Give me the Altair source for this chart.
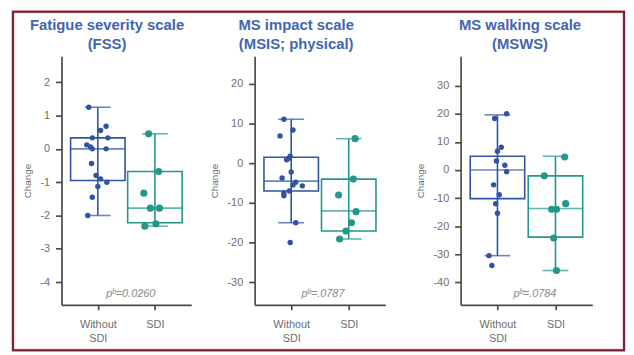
import altair as alt
import pandas as pd

groups = ["Without SDI", "SDI"]
colors = ["#2f54a3", "#25968b"]

titles = [["Fatigue severity scale", "(FSS)"],
          ["MS impact scale", "(MSIS; physical)"],
          ["MS walking scale", "(MSWS)"]]
p_labels = ["pᵇ=0.0260", "pᵇ=.0787", "pᵇ=.0784"]

# ---- Fatigue severity scale (FSS) ----
fss_without = [1.25, 0.68, 0.55, 0.33, 0.33, 0.12, 0.06, 0.0, 0.0, -0.44, -0.8, -0.9, -1.0, -1.13, -1.45, -2.0]
fss_without_jit = [-0.36, 0.33, 0.11, -0.22, 0.4, -0.44, -0.29, -0.22, 0.33, -0.25, -0.07, 0.11, 0.36, 0.0, -0.22, -0.4]
fss_sdi = [0.45, -0.68, -1.33, -1.78, -1.78, -2.32, -2.25]
fss_sdi_jit = [-0.25, 0.15, -0.44, -0.18, 0.18, -0.4, 0.04]
# box stats: low, q1, median, q3, high
fss_box_without = [-2.0, -0.95, 0.0, 0.33, 1.25]
fss_box_sdi = [-2.32, -2.22, -1.78, -0.68, 0.45]

# ---- MS impact scale (MSIS; physical) ----
msis_without = [11.1, 8.4, 6.9, 1.8, 1.2, 0.9, -2.2, -3.7, -4.8, -5.5, -5.7, -7.0, -7.5, -8.2, -15.0, -20.0]
msis_without_jit = [-0.29, 0.07, -0.44, -0.04, -0.11, -0.18, 0.0, -0.36, 0.18, 0.07, 0.44, -0.07, -0.29, -0.29, 0.18, -0.04]
msis_sdi = [6.2, -4.0, -8.0, -12.2, -15.0, -17.1, -19.1]
msis_sdi_jit = [0.25, 0.18, -0.4, 0.29, 0.11, -0.11, -0.36]
msis_box_without = [-15.0, -7.0, -4.5, 1.5, 11.1]
msis_box_sdi = [-19.1, -17.1, -12.0, -4.0, 6.2]

# ---- MS walking scale (MSWS) ----
msws_without = [20.0, 18.3, 8.1, 6.7, 3.2, 1.7, -0.6, -5.3, -8.8, -12.0, -15.4, -30.5, -34.0]
msws_without_jit = [0.36, -0.11, 0.15, 0.0, -0.04, 0.29, 0.36, -0.15, 0.07, -0.07, 0.0, -0.33, -0.22]
msws_sdi = [4.6, -2.1, -12.0, -14.0, -14.0, -24.2, -35.8]
msws_sdi_jit = [0.36, -0.44, 0.4, -0.15, 0.04, -0.07, 0.04]
msws_box_without = [-30.5, -10.2, 0.0, 4.9, 19.6]
msws_box_sdi = [-35.8, -23.9, -13.7, -2.1, 4.9]

y_domains = [[-4.68, 2.78], [-35.7, 27.0], [-48.0, 40.5]]
y_ticks = [[-4, -3, -2, -1, 0, 1, 2],
           [-30, -20, -10, 0, 10, 20],
           [-40, -30, -20, -10, 0, 10, 20, 30]]

# layout (pixels)
view_widths = [132, 145, 133]
range_widths = [131, 132, 133]
plot_h = 251
title_x = [46, 42, 60]
p_x = [70, 69, 75]

font = "Liberation Sans"
x_label_expr = (f"datum.value == 0 ? ['{groups[0].split(' ')[0]}', '{groups[0].split(' ')[1]}'] "
                f": '{groups[1]}'")


def make_panel(i, without, without_jit, sdi, sdi_jit, box_w, box_s):
    pts = pd.DataFrame({
        "group": [groups[0]] * len(without) + [groups[1]] * len(sdi),
        "idx": [0] * len(without) + [1] * len(sdi),
        "value": without + sdi,
        "jit": without_jit + sdi_jit,
    })
    box = pd.DataFrame({
        "group": groups,
        "idx": [0, 1],
        "low": [box_w[0], box_s[0]],
        "q1": [box_w[1], box_s[1]],
        "med": [box_w[2], box_s[2]],
        "q3": [box_w[3], box_s[3]],
        "high": [box_w[4], box_s[4]],
    })

    xscale = alt.Scale(domain=[-0.55, 1.55], nice=False, zero=False,
                       range=[0, range_widths[i]])
    xaxis = alt.Axis(title=None, labelAngle=0, grid=False, values=[0, 1],
                     labelExpr=x_label_expr,
                     labelLineHeight=14, labelPadding=9, tickSize=5,
                     labelFontSize=11, labelColor="#6e6e6e",
                     domainColor="#4a4a4a", domainWidth=1.7,
                     tickColor="#4a4a4a", tickWidth=1.7, labelFont=font, labelFlush=False)

    def xenc(field):
        return alt.X(f"{field}:Q", scale=xscale, axis=xaxis)

    yscale = alt.Scale(domain=y_domains[i], nice=False, zero=False)
    yaxis = alt.Axis(title="Change", values=y_ticks[i], grid=False,
                     labelExpr="replace(datum.label, '\u2212', '-')",
                     tickSize=6, labelPadding=6, labelFontSize=11, labelColor="#6e6e6e",
                     titleFontSize=10, titleFontWeight="normal", titleColor="#6e6e6e",
                     titlePadding=8, domainColor="#4a4a4a", domainWidth=1.7,
                     tickColor="#4a4a4a", tickWidth=1.7, labelFont=font, titleFont=font)

    def yenc(field):
        return alt.Y(f"{field}:Q", scale=yscale, axis=yaxis)

    cscale = alt.Scale(domain=groups, range=colors)
    stroke = alt.Stroke("group:N", scale=cscale, legend=None)
    colr = alt.Color("group:N", scale=cscale, legend=None)

    base = alt.Chart(box)
    whisker = base.mark_rule(strokeWidth=1.6).encode(
        x=xenc("idx"), y=yenc("low"), y2="high:Q", stroke=stroke)
    bx = base.mark_bar(size=55, fillOpacity=0, strokeWidth=1.6, orient="vertical").encode(
        x=xenc("idx"), y=yenc("q1"), y2="q3:Q", stroke=stroke)
    med = base.mark_tick(size=55, thickness=1.6, orient="horizontal").encode(
        x=xenc("idx"), y=yenc("med"), color=colr)
    cap_lo = base.mark_tick(size=26, thickness=1.6, orient="horizontal").encode(
        x=xenc("idx"), y=yenc("low"), color=colr)
    cap_hi = base.mark_tick(size=26, thickness=1.6, orient="horizontal").encode(
        x=xenc("idx"), y=yenc("high"), color=colr)
    points = alt.Chart(pts).transform_calculate(
        pos="datum.idx + datum.jit * 0.44"
    ).mark_circle(opacity=1).encode(
        x=xenc("pos"),
        y=yenc("value"),
        color=colr,
        size=alt.Size("group:N", scale=alt.Scale(domain=groups, range=[30, 52]), legend=None),
    )

    one = pd.DataFrame({"k": [0]})
    title = alt.Chart(one).mark_text(
        font=font, fontSize=15, fontWeight="bold", color="#4166b0",
        align="center", baseline="top", lineHeight=19,
    ).encode(x=alt.value(title_x[i]), y=alt.value(-38), text=alt.value(titles[i]))
    ptxt = alt.Chart(one).mark_text(
        font=font, fontSize=11, fontStyle="italic", color="#8a8a8a",
        align="center", baseline="middle",
    ).encode(x=alt.value(p_x[i]), y=alt.value(plot_h - 11), text=alt.value(p_labels[i]))

    layers = [whisker, bx, med, cap_lo, cap_hi, points, title, ptxt]
    if i == 0:
        halo = alt.Chart(one).mark_rect(fillOpacity=0, stroke="#e3b3bb", strokeWidth=3).encode(
            x=alt.value(-49), x2=alt.value(568), y=alt.value(-45), y2=alt.value(297))
        frame = alt.Chart(one).mark_rect(fillOpacity=0, stroke="#7a1e30", strokeWidth=2).encode(
            x=alt.value(-49), x2=alt.value(568), y=alt.value(-45), y2=alt.value(297))
        layers = [halo, frame] + layers
    return alt.layer(*layers).properties(
        width=view_widths[i], height=plot_h,
        view=alt.ViewBackground(strokeWidth=0, strokeOpacity=0),
    )


p1 = make_panel(0, fss_without, fss_without_jit, fss_sdi, fss_sdi_jit, fss_box_without, fss_box_sdi)
p2 = make_panel(1, msis_without, msis_without_jit, msis_sdi, msis_sdi_jit, msis_box_without, msis_box_sdi)
p3 = make_panel(2, msws_without, msws_without_jit, msws_sdi, msws_sdi_jit, msws_box_without, msws_box_sdi)

chart = alt.hconcat(p1, p2, p3, spacing=63, bounds="flush").properties(
    padding={"left": 3, "top": 0, "right": 0, "bottom": 0}
).configure(font=font).configure_view(stroke=None, strokeWidth=0)

chart.save("out.html", embed_options={"renderer": "svg", "actions": False})
